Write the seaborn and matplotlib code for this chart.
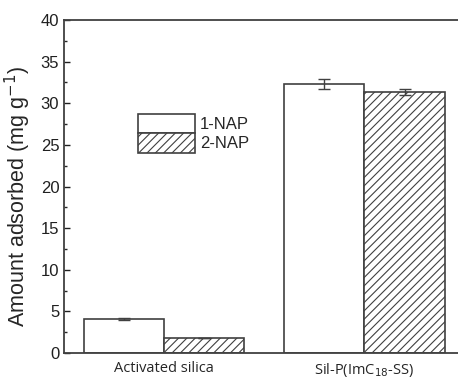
import matplotlib
matplotlib.use("Agg")
import matplotlib.pyplot as plt
from matplotlib.patches import Patch
import seaborn as sns
import pandas as pd
import numpy as np

categories = ["Activated silica", "Sil-P(ImC$_{18}$-SS)"]
series = ["1-NAP", "2-NAP"]
nap1 = [4.1, 32.3]
nap2 = [1.8, 31.4]
err1 = [0.12, 0.6]
err2 = [0.05, 0.35]

df = pd.DataFrame({
    "cat": categories * 2,
    "series": [series[0]] * 2 + [series[1]] * 2,
    "val": nap1 + nap2,
})

sns.set_style("ticks")
plt.rcParams['font.family'] = ['Liberation Sans', 'DejaVu Sans']
plt.rcParams['hatch.color'] = '#505050'
plt.rcParams['hatch.linewidth'] = 0.8

fig = plt.figure(figsize=(4.58, 3.78), dpi=100)
ax = fig.add_axes([0.140, 0.066, 0.87, 0.881])

edge = "#404040"
sns.barplot(data=df, x="cat", y="val", hue="series", errorbar=None,
            palette=["white", "white"], edgecolor=edge, linewidth=1.2,
            width=0.8, ax=ax, legend=False)

hatches = ["", "////"]
for cont, h in zip(ax.containers, hatches):
    for b in cont:
        b.set_hatch(h)

errs = [err1, err2]
for cont, e in zip(ax.containers, errs):
    xs = [b.get_x() + b.get_width() / 2 for b in cont]
    ys = [b.get_height() for b in cont]
    ax.errorbar(xs, ys, yerr=e, fmt="none", ecolor=edge, elinewidth=1.0,
                capsize=4, capthick=1.0)

ax.set_xlim(-0.5, 1.49)
ax.set_ylim(0, 40)
ax.set_yticks(np.arange(0, 41, 5))
ax.set_yticks(np.arange(0, 41, 2.5), minor=True)
ax.tick_params(axis="y", which="major", direction="in", length=4, width=1, labelsize=12, colors="#202020")
ax.tick_params(axis="y", which="minor", direction="in", length=2.5, width=1)
ax.tick_params(axis="x", length=0, labelsize=10.5, pad=6)
for lab in ax.get_xticklabels():
    lab.set_fontfamily(['Liberation Sans Narrow', 'Open Sans', 'DejaVu Sans'])
ax.set_xlabel("")
ax.set_ylabel("Amount adsorbed (mg g$^{-1}$)", fontsize=15.5)
ax.yaxis.set_label_coords(-0.078, 0.47)

for s in ["left", "top", "bottom"]:
    ax.spines[s].set_color(edge)
    ax.spines[s].set_linewidth(1.3)
ax.spines["right"].set_visible(False)

handles = [Patch(facecolor="white", edgecolor=edge, linewidth=1.2, hatch=h, label=lab)
           for h, lab in zip(hatches, series)]
ax.legend(handles=handles, loc="center left", bbox_to_anchor=(0.165, 0.66), frameon=False,
          fontsize=12, handlelength=3.4, handleheight=1.4,
          handletextpad=0.3, labelspacing=0.0, borderpad=0)

fig.savefig("out.png", dpi=100)
